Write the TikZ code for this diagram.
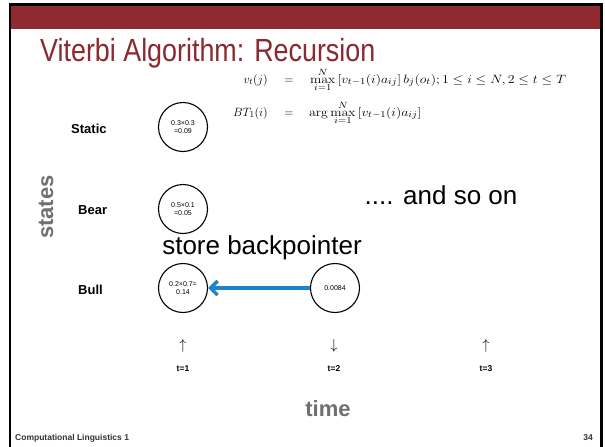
\documentclass[tikz,border=0pt]{standalone}
\usepackage[no-math]{fontspec}
\setmainfont{Liberation Sans}
\usetikzlibrary{arrows.meta}
\definecolor{hdr}{HTML}{8E2A30}
\definecolor{ttl}{HTML}{8A2A30}
\definecolor{bluearr}{HTML}{1E82CC}
\definecolor{graytxt}{HTML}{707070}
\begin{document}
\begin{tikzpicture}[x=1pt,y=-1pt,
  state/.style={circle,draw,line width=1.1pt,minimum size=49pt,inner sep=0pt,align=center,font=\fontsize{7}{8.5}\selectfont},
  rowlab/.style={font=\fontsize{13}{15}\selectfont\bfseries},
  tlab/.style={font=\fontsize{8.5}{10}\selectfont\bfseries},
  big/.style={font=\fontsize{26}{28}\selectfont},
  axis/.style={font=\fontsize{22}{24}\selectfont\bfseries,text=graytxt},
  foot/.style={font=\fontsize{8.5}{10}\selectfont\bfseries,text=black!80},
  eqn/.style={inner sep=0pt,font=\fontsize{13}{15}\selectfont}]
\useasboundingbox (0,0) rectangle (605,447);
\fill[white] (0,0) rectangle (605,447);
% header band and border
\fill[hdr] (11,5) rectangle (601,29);
\draw[line width=2.2pt] (10,447) -- (10,4.5) -- (601.5,4.5) -- (601.5,447);
% title
\node[anchor=base west,text=ttl,font=\fontsize{32}{36}\selectfont,inner sep=0pt] (title) at (40,61) {\scalebox{0.84}[1]{Viterbi Algorithm: Recursion}};
% equations
\node[eqn,anchor=base east] (eqL1) at (268,83) {$v_t(j)$};
\node[eqn,anchor=base] (eqE1) at (289,83) {$=$};
\node[eqn,anchor=base west] (eqR1) at (310,83) {\scalebox{1.15}[1]{$\max\limits_{i=1}^{N}\,[v_{t-1}(i)a_{ij}]\,b_j(o_t);1\le i\le N,2\le t\le T$}};
\node[eqn,anchor=base east] (eqL2) at (268,116) {$BT_1(i)$};
\node[eqn,anchor=base] (eqE2) at (289,116) {$=$};
\node[eqn,anchor=base west] (eqR2) at (309,116) {\scalebox{1.15}[1]{$\arg\max\limits_{i=1}^{N}\,[v_{t-1}(i)a_{ij}]$}};
% row labels
\node[rowlab,anchor=base west,inner sep=0pt] (lstatic) at (71,133) {Static};
\node[rowlab,anchor=base west,inner sep=0pt] (lbear) at (78,214) {Bear};
\node[rowlab,anchor=base west,inner sep=0pt] (lbull) at (78,294) {Bull};
% states
\node[state] (s1) at (183,127) {0.3×0.3\\=0.09};
\node[state] (b1) at (183,209) {0.5×0.1\\=0.05};
\node[state] (u1) at (183,288) {0.2×0.7=\\0.14};
\node[state] (u2) at (335,288) {0.0084};
% backpointer arrow
\draw[bluearr,line width=4pt,-{Straight Barb[length=7pt,width=14pt,line width=3.5pt]}] (u2.west) -- (u1.east);
% texts
\node[big,anchor=base,inner sep=0pt] (store) at (262,254) {store backpointer};
\node[big,anchor=base,inner sep=0pt] (soon) at (441,204) {.... and so on};
% axis labels
\node[axis,rotate=90,anchor=base,inner sep=0pt] (states) at (53,207) {states};
\node[axis,anchor=base,inner sep=0pt] (time) at (328,416) {time};
% time arrows
\node[font=\fontsize{14}{16}\selectfont,inner sep=0pt] (a1) at (183,346) {$\uparrow$};
\node[font=\fontsize{14}{16}\selectfont,inner sep=0pt] (a2) at (334,346) {$\downarrow$};
\node[font=\fontsize{14}{16}\selectfont,inner sep=0pt] (a3) at (486,346) {$\uparrow$};
\node[tlab,anchor=base,inner sep=0pt] (t1) at (183,371) {t=1};
\node[tlab,anchor=base,inner sep=0pt] (t2) at (334,371) {t=2};
\node[tlab,anchor=base,inner sep=0pt] (t3) at (486,371) {t=3};
% footer
\node[foot,anchor=base west,inner sep=0pt] (f1) at (15,440) {Computational Linguistics 1};
\node[foot,anchor=base east,inner sep=0pt] (f2) at (593,440) {34};
\end{tikzpicture}
\end{document}
